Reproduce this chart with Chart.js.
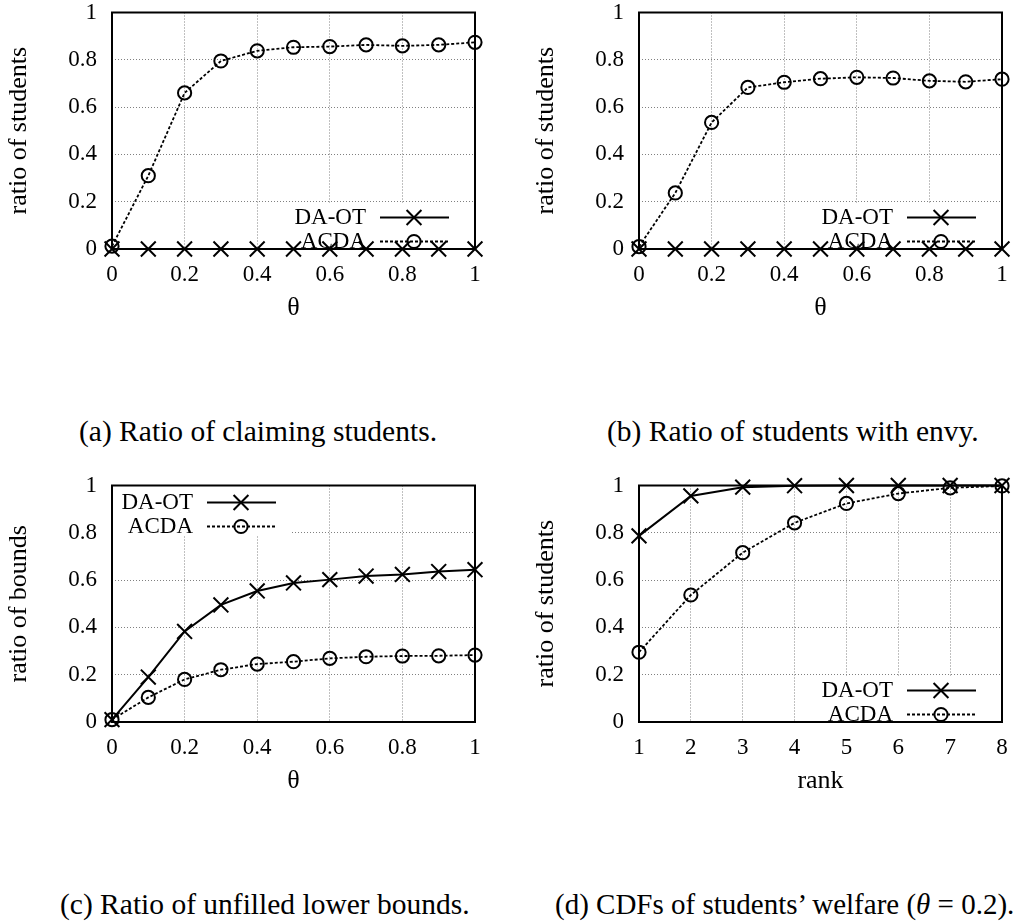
<!DOCTYPE html>
<html>
<head>
<meta charset="utf-8">
<script src="https://cdn.jsdelivr.net/npm/chart.js@4.4.1/dist/chart.umd.min.js"></script>
<style>
  html, body { margin: 0; padding: 0; background: #fff; overflow: hidden; }
  body { width: 1015px; height: 924px; position: relative; }
  canvas { position: absolute; }
  .cap { position: absolute; font-family: 'Liberation Serif', serif; font-size: 29.5px; line-height: 30px; white-space: nowrap; color: #000; }
</style>
</head>
<body>
<canvas id="chartA" width="488" height="330" style="left:0;top:0"></canvas>
<canvas id="chartB" width="488" height="330" style="left:527px;top:0"></canvas>
<canvas id="chartC" width="488" height="330" style="left:0;top:473px"></canvas>
<canvas id="chartD" width="488" height="330" style="left:527px;top:473px"></canvas>

<div class="cap" style="left:79px;top:416px">(a) Ratio of claiming students.</div>
<div class="cap" style="left:607px;top:416px">(b) Ratio of students with envy.</div>
<div class="cap" style="left:60px;top:889px">(c) Ratio of unfilled lower bounds.</div>
<div class="cap" style="left:555px;top:889px;font-size:29px">(d) CDFs of students’ welfare (<i>θ</i> = 0.2).</div>

<script>
// valori
const thetas = [0, 0.1, 0.2, 0.3, 0.4, 0.5, 0.6, 0.7, 0.8, 0.9, 1];
const ranks = [1, 2, 3, 4, 5, 6, 7, 8];

const thetaTicks = [0, 0.2, 0.4, 0.6, 0.8, 1];
const rankTicks = [1, 2, 3, 4, 5, 6, 7, 8];
const ratioTicks = [0, 0.2, 0.4, 0.6, 0.8, 1];

// (a) claiming students
const claimDAOT = [0, 0, 0, 0, 0, 0, 0, 0, 0, 0, 0];
const claimACDA = [0.012, 0.31, 0.66, 0.795, 0.838, 0.853, 0.856, 0.863, 0.859, 0.863, 0.874];

// (b) students with envy
const envyDAOT = [0, 0, 0, 0, 0, 0, 0, 0, 0, 0, 0];
const envyACDA = [0.01, 0.237, 0.535, 0.683, 0.705, 0.72, 0.726, 0.723, 0.711, 0.707, 0.718];

// (c) unfilled lower bounds
const boundsDAOT = [0.01, 0.19, 0.383, 0.495, 0.554, 0.588, 0.602, 0.617, 0.624, 0.636, 0.644];
const boundsACDA = [0.01, 0.104, 0.18, 0.221, 0.245, 0.255, 0.269, 0.276, 0.279, 0.28, 0.283];

// (d) CDF welfare
const welfareDAOT = [0.787, 0.956, 0.993, 0.999, 1, 1, 1, 1];
const welfareACDA = [0.295, 0.537, 0.716, 0.842, 0.924, 0.966, 0.99, 0.998];

const SERIF = "'Liberation Serif', 'Times New Roman', serif";
Chart.defaults.font.family = SERIF;
Chart.defaults.color = '#000';

// legenda gnuplot-style + cornice
const keyPlugin = {
    id: 'key',
    beforeDatasetsDraw(chart, args, o) {
        const {ctx, chartArea: c} = chart;
        ctx.save();
        ctx.fillStyle = '#fff';
        const b = o.box;
        ctx.fillRect(c.left + b[0], c.top + b[1], b[2] - b[0], b[3] - b[1]);
        ctx.strokeStyle = '#000';
        ctx.lineWidth = 2;
        ctx.strokeRect(c.left, c.top, c.right - c.left, c.bottom - c.top);
        ctx.restore();
    },
    afterDatasetsDraw(chart, args, o) {
        const {ctx, chartArea: c} = chart;
        ctx.save();
        ctx.font = '23px ' + SERIF;
        ctx.textAlign = 'right';
        ctx.textBaseline = 'middle';
        chart.data.datasets.forEach((ds, i) => {
            const y = c.top + o.row + i * 24;
            const xr = c.left + o.right;
            ctx.fillStyle = '#000';
            ctx.fillText(ds.label, xr, y);
            ctx.strokeStyle = ds.borderColor;
            ctx.lineWidth = ds.borderWidth;
            ctx.setLineDash(ds.borderDash || []);
            ctx.beginPath();
            ctx.moveTo(xr + 14, y);
            ctx.lineTo(xr + 83, y);
            ctx.stroke();
            ctx.setLineDash([]);
            ctx.lineWidth = ds.pointBorderWidth;
            const cx = xr + 48;
            ctx.beginPath();
            if (ds.pointStyle === 'crossRot') {
                const d = ds.pointRadius * Math.SQRT1_2;
                ctx.moveTo(cx - d, y - d); ctx.lineTo(cx + d, y + d);
                ctx.moveTo(cx - d, y + d); ctx.lineTo(cx + d, y - d);
            } else {
                ctx.arc(cx, y, ds.pointRadius, 0, Math.PI * 2);
            }
            ctx.stroke();
        });
        ctx.restore();
    }
};

function series(xs, ys) {
    return xs.map((x, i) => ({x: x, y: ys[i]}));
}

function makeChart(id, xs, xTicks, xTitle, yTitle, daot, acda, key) {
    const ctx = document.getElementById(id).getContext('2d');
    return new Chart(ctx, {
        type: 'line',
        data: {
            datasets: [
                {
                    label: 'DA-OT', data: series(xs, daot),
                    borderColor: '#000', borderWidth: 2,
                    pointStyle: 'crossRot', pointRadius: 10.5, pointBorderWidth: 2,
                    pointBorderColor: '#000', pointBackgroundColor: 'rgba(0,0,0,0)',
                    clip: false
                },
                {
                    label: 'ACDA', data: series(xs, acda),
                    borderColor: '#000', borderWidth: 1.8, borderDash: [3, 2],
                    pointStyle: 'circle', pointRadius: 6.6, pointBorderWidth: 2,
                    pointBorderColor: '#000', pointBackgroundColor: 'rgba(0,0,0,0)',
                    clip: false
                }
            ]
        },
        options: {
            responsive: false,
            animation: false,
            devicePixelRatio: 1,
            layout: { padding: { top: 6, right: 13, left: 0, bottom: 0 } },
            plugins: {
                legend: { display: false },
                tooltip: { enabled: false },
                key: key
            },
            scales: {
                x: {
                    type: 'linear',
                    min: xTicks[0], max: xTicks[xTicks.length - 1],
                    afterBuildTicks: s => { s.ticks = xTicks.map(v => ({value: v})); },
                    afterFit: s => { s.height = 81; s.paddingLeft = 0; s.paddingRight = 0; },
                    ticks: { callback: v => String(v), font: { size: 23 }, padding: 12, maxRotation: 0, autoSkip: false },
                    grid: { color: '#808080', lineWidth: 1, drawTicks: false },
                    border: { display: false, dash: [1, 2] },
                    title: { display: true, text: xTitle, font: { size: 26, lineHeight: 1.2 }, padding: { top: 0, bottom: 6 } }
                },
                y: {
                    min: 0, max: 1,
                    afterBuildTicks: s => { s.ticks = ratioTicks.map(v => ({value: v})); },
                    afterFit: s => { s.width = 112; s.paddingTop = 0; s.paddingBottom = 0; },
                    ticks: { callback: v => String(v), font: { size: 23 }, padding: 15 },
                    grid: { color: '#808080', lineWidth: 1, drawTicks: false },
                    border: { display: false, dash: [1, 2] },
                    title: { display: true, text: yTitle, font: { size: 26, lineHeight: 1.2 }, padding: { top: 4, bottom: 0 } }
                }
            }
        },
        plugins: [keyPlugin]
    });
}

document.addEventListener('DOMContentLoaded', function() {
    const keyLow = { right: 254, row: 205, box: [171, 191, 358, 243] };
    makeChart('chartA', thetas, thetaTicks, 'θ', 'ratio of students', claimDAOT, claimACDA, keyLow);
    makeChart('chartB', thetas, thetaTicks, 'θ', 'ratio of students', envyDAOT, envyACDA, keyLow);
    makeChart('chartC', thetas, thetaTicks, 'θ', 'ratio of bounds', boundsDAOT, boundsACDA,
        { right: 81, row: 17, box: [0, 0, 180, 50] });
    makeChart('chartD', ranks, rankTicks, 'rank', 'ratio of students', welfareDAOT, welfareACDA, keyLow);
});
</script>
</body>
</html>
